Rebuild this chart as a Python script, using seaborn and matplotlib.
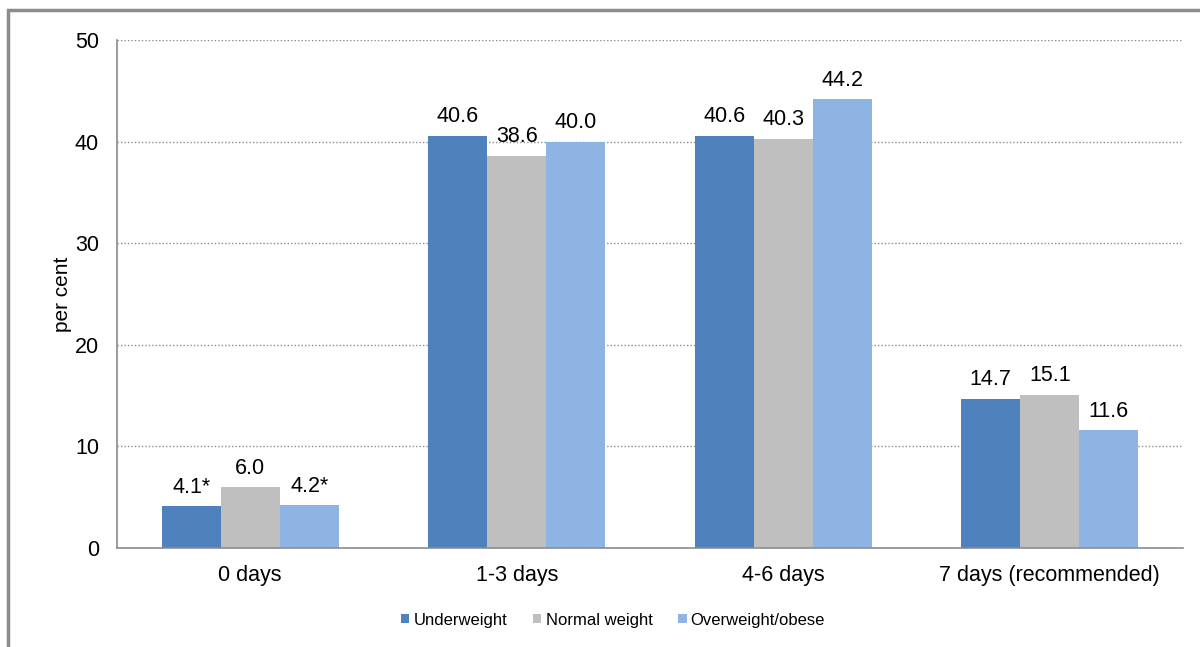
import matplotlib
matplotlib.use("Agg")
import matplotlib.pyplot as plt
import seaborn as sns
import pandas as pd
from matplotlib.patches import Rectangle, Patch

categories = ["0 days", "1-3 days", "4-6 days", "7 days (recommended)"]
series = ["Underweight", "Normal weight", "Overweight/obese"]
underweight = [4.1, 40.6, 40.6, 14.7]
normal_weight = [6.0, 38.6, 40.3, 15.1]
overweight = [4.2, 40.0, 44.2, 11.6]
label_underweight = ["4.1*", "40.6", "40.6", "14.7"]
label_normal = ["6.0", "38.6", "40.3", "15.1"]
label_overweight = ["4.2*", "40.0", "44.2", "11.6"]
colors = ["#4F81BD", "#BFBFBF", "#8DB4E2"]

rows = []
for s, vals in zip(series, [underweight, normal_weight, overweight]):
    for c, v in zip(categories, vals):
        rows.append({"category": c, "series": s, "value": v})
df = pd.DataFrame(rows)

sns.set_style("white")
plt.rcParams["font.family"] = ["Liberation Sans", "DejaVu Sans"]
plt.rcParams["text.color"] = "black"
plt.rcParams["xtick.labelcolor"] = "black"
plt.rcParams["ytick.labelcolor"] = "black"
plt.rcParams["axes.labelcolor"] = "black"

fig = plt.figure(figsize=(12, 6.47), dpi=100)
ax = fig.add_axes([117 / 1200, 1 - 548 / 647, (1183 - 117) / 1200, (548 - 40) / 647])

sns.barplot(data=df, x="category", y="value", hue="series", order=categories,
            hue_order=series, palette=colors, width=0.665, saturation=1,
            edgecolor="none", linewidth=0, ax=ax, legend=False)

for cont, labs in zip(ax.containers, [label_underweight, label_normal, label_overweight]):
    ax.bar_label(cont, labels=labs, padding=6, fontsize=15.5, color="black")

ax.set_ylim(0, 50)
ax.set_xlim(-0.5, 3.5)
ax.set_yticks([0, 10, 20, 30, 40, 50])
ax.yaxis.grid(True, linestyle=(0, (1, 1.5)), color="#8C8C8C", linewidth=1.0)
ax.set_axisbelow(True)
for side in ["top", "right"]:
    ax.spines[side].set_visible(False)
for side in ["left", "bottom"]:
    ax.spines[side].set_color("#8C8C8C")
    ax.spines[side].set_linewidth(1.2)

ax.set_xticks([0, 1, 2, 3])
ax.set_xticklabels(categories, fontsize=15.5)
ax.tick_params(axis="x", length=0, pad=12)
ax.set_xticks([-0.5, 0.5, 1.5, 2.5, 3.5], minor=True)
ax.tick_params(axis="x", which="minor", length=7, color="#8C8C8C", width=1.2, direction="out")
ax.tick_params(axis="y", length=6, color="#8C8C8C", width=1.2, direction="out", labelsize=15.5, pad=7)
ax.set_xlabel("")
ax.set_ylabel("per cent", fontsize=15, labelpad=2)

handles = [Patch(facecolor=c, edgecolor="none") for c in colors]
fig.legend(handles, series, loc="center", bbox_to_anchor=(613 / 1200, 1 - 620 / 647),
           ncol=3, frameon=False, fontsize=12, handlelength=0.5, handleheight=0.5,
           handletextpad=0.25, columnspacing=1.55)

fig.patches.append(Rectangle((8 / 1200, -0.1), 1.2, 1 - 10 / 647 + 0.1,
                             transform=fig.transFigure, fill=False,
                             edgecolor="#8C8C8C", linewidth=2.5))

fig.savefig("out.png", dpi=100)
